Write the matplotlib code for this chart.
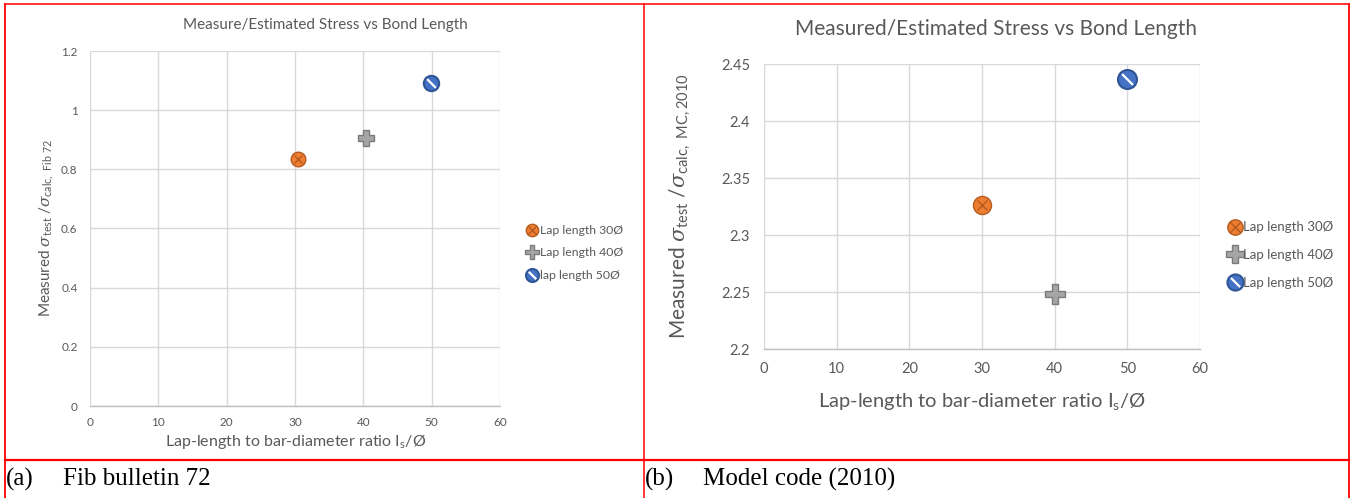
import matplotlib
matplotlib.use("Agg")
import matplotlib.pyplot as plt
from matplotlib.lines import Line2D
from matplotlib.legend_handler import HandlerTuple

plt.rcParams['font.family'] = ['Lato', 'DejaVu Sans']
plt.rcParams['mathtext.fontset'] = 'custom'
plt.rcParams['mathtext.rm'] = 'Lato'
plt.rcParams['mathtext.it'] = 'DejaVu Serif:italic'
plt.rcParams['mathtext.bf'] = 'Lato:bold'

# ---------------- data ----------------
series_labels_a = ["Lap length 30Ø", "Lap length 40Ø", "lap length 50Ø"]
series_labels_b = ["Lap length 30Ø", "Lap length 40Ø", "Lap length 50Ø"]
x_a = [30.4, 40.4, 49.9]
y_a = [0.836, 0.907, 1.092]
x_b = [30, 40, 50]
y_b = [2.326, 2.248, 2.437]

xticks = [0, 10, 20, 30, 40, 50, 60]
yticks_a = [0, 0.2, 0.4, 0.6, 0.8, 1.0, 1.2]
ytick_labels_a = ["0", "0.2", "0.4", "0.6", "0.8", "1", "1.2"]
yticks_b = [2.2, 2.25, 2.3, 2.35, 2.4, 2.45]
ytick_labels_b = ["2.2", "2.25", "2.3", "2.35", "2.4", "2.45"]

title_a = "Measure/Estimated Stress vs Bond Length"
title_b = "Measured/Estimated Stress vs Bond Length"
xlabel = r"Lap-length to bar-diameter ratio I$_{\mathrm{s}}$/Ø"
ylabel_a = r"Measured $\sigma_{\mathrm{test}}$ /$\sigma_{\mathrm{calc,\ Fib\ 72}}$"
ylabel_b = r"Measured $\sigma_{\mathrm{test}}$ /$\sigma_{\mathrm{calc,\ MC,2010}}$"
caption_a = ("(a)", "Fib bulletin 72")
caption_b = ("(b)", "Model code (2010)")

# ---------------- styles ----------------
ORANGE, ORANGE_E = "#ED7D31", "#B45A1E"
GRAY, GRAY_E = "#A5A5A5", "#7B7B7B"
BLUE, BLUE_E = "#4472C4", "#2F5597"
TXT = "#595959"
GRID = "#D9D9D9"

W, H = 1352, 498
fig = plt.figure(figsize=(W / 100, H / 100), dpi=100)


def fx(px):
    return px / W


def fy(py):
    return 1 - py / H


def draw_markers(ax, xs, ys, ms):
    # orange: circle with X
    h1 = ax.plot([xs[0]], [ys[0]], 'o', ms=ms, mfc=ORANGE, mec=ORANGE_E, mew=1.0, zorder=3)[0]
    h1b = ax.plot([xs[0]], [ys[0]], 'x', ms=ms * 0.6, mec=ORANGE_E, mew=1.0, zorder=4)[0]
    # gray: thick plus
    h2 = ax.plot([xs[1]], [ys[1]], 'P', ms=ms * 1.15, mfc=GRAY, mec=GRAY_E, mew=1.0, zorder=3)[0]
    # blue: circle with diagonal stripe
    h3 = ax.plot([xs[2]], [ys[2]], 'o', ms=ms * 1.05, mfc=BLUE, mec=BLUE_E, mew=1.5, zorder=3)[0]
    stripe = [(-0.5, 0.5), (0.5, -0.5)]
    h3b = ax.plot([xs[2]], [ys[2]], marker=stripe, ms=ms * 0.6, mec="white", mew=1.6,
                  ls='none', zorder=4)[0]
    return [(h1, h1b), h2, (h3, h3b)]


def setup_axes(rect, xt, yt, ytl, ylim, tick_fs, pad_x, pad_y):
    ax = fig.add_axes(rect)
    ax.set_xlim(0, 60)
    ax.set_ylim(*ylim)
    ax.set_xticks(xt)
    ax.set_xticklabels([str(v) for v in xt])
    ax.set_yticks(yt)
    ax.set_yticklabels(ytl)
    ax.grid(True, color=GRID, lw=1.0, zorder=0)
    ax.set_axisbelow(True)
    for s in ['top', 'right', 'left']:
        ax.spines[s].set_visible(False)
    ax.spines['bottom'].set_color("#BFBFBF")
    ax.spines['bottom'].set_linewidth(1.0)
    ax.tick_params(length=0, labelsize=tick_fs, colors=TXT)
    ax.tick_params(axis='x', pad=pad_x)
    ax.tick_params(axis='y', pad=pad_y)
    return ax


# ---------------- panel (a) ----------------
ax1 = setup_axes([fx(90), fy(406), fx(500) - fx(90), fy(51) - fy(406)],
                 xticks, yticks_a, ytick_labels_a, (0, 1.2), 8.5, 8, 9)
h_a = draw_markers(ax1, x_a, y_a, 10.5)
ax1.set_xlabel(xlabel, fontsize=11.5, color=TXT)
ax1.xaxis.set_label_coords(0.502, (406 - 442) / 355)
ax1.xaxis.label.set_va('center')
ax1.set_ylabel(ylabel_a, fontsize=11, color=TXT, va='center')
ax1.yaxis.set_label_coords((47 - 90) / 410, (406 - 228) / 355)
fig.text(fx(325), fy(25), title_a, fontsize=11, color=TXT, ha='center', va='center')
fig.legend(h_a, series_labels_a, handler_map={tuple: HandlerTuple(ndivide=1)},
           loc='center left', bbox_to_anchor=(fx(520), fy(253)), frameon=False,
           fontsize=8.8, labelcolor=TXT, handlelength=1.0, handletextpad=0.1,
           labelspacing=0.95, borderpad=0, markerscale=0.85)

# ---------------- panel (b) ----------------
ax2 = setup_axes([fx(764), fy(349), fx(1200) - fx(764), fy(64) - fy(349)],
                 xticks, yticks_b, ytick_labels_b, (2.2, 2.45), 10.5, 9.5, 10)
h_b = draw_markers(ax2, x_b, y_b, 13)
ax2.set_xlabel(xlabel, fontsize=14.5, color=TXT)
ax2.xaxis.set_label_coords(0.5, (349 - 402) / 285)
ax2.xaxis.label.set_va('center')
ax2.set_ylabel(ylabel_b, fontsize=15, color=TXT, va='center')
ax2.yaxis.set_label_coords((680 - 764) / 436, (349 - 206) / 285)
fig.text(fx(996), fy(29), title_b, fontsize=15, color=TXT, ha='center', va='center')
fig.legend(h_b, series_labels_b, handler_map={tuple: HandlerTuple(ndivide=1)},
           loc='center left', bbox_to_anchor=(fx(1222), fy(255)), frameon=False,
           fontsize=9.5, labelcolor=TXT, handlelength=1.0, handletextpad=0.1,
           labelspacing=1.2, borderpad=0, markerscale=0.85)

# ---------------- captions ----------------
for (lab, txt), x0, x1 in [(caption_a, 6, 63), (caption_b, 645, 703)]:
    fig.text(fx(x0), fy(479), lab, fontsize=18, family='Liberation Serif', color='black',
             ha='left', va='center')
    fig.text(fx(x1), fy(479), txt, fontsize=18, family='Liberation Serif', color='black',
             ha='left', va='center')

# ---------------- red table borders ----------------
RED = "#FF0000"
def hline(y, x0, x1, lw):
    fig.add_artist(Line2D([fx(x0), fx(x1)], [fy(y), fy(y)], color=RED, lw=lw,
                          transform=fig.transFigure))

def vline(x, y0, y1, lw):
    fig.add_artist(Line2D([fx(x), fx(x)], [fy(y0), fy(y1)], color=RED, lw=lw,
                          transform=fig.transFigure))

hline(4, 5, 1349, 1.1)
hline(460, 5, 1349, 1.6)
vline(5, 4, 498, 1.3)
vline(643.5, 4, 498, 1.1)
vline(1349, 4, 498, 1.3)

fig.savefig("out.png", dpi=100, facecolor="white")
